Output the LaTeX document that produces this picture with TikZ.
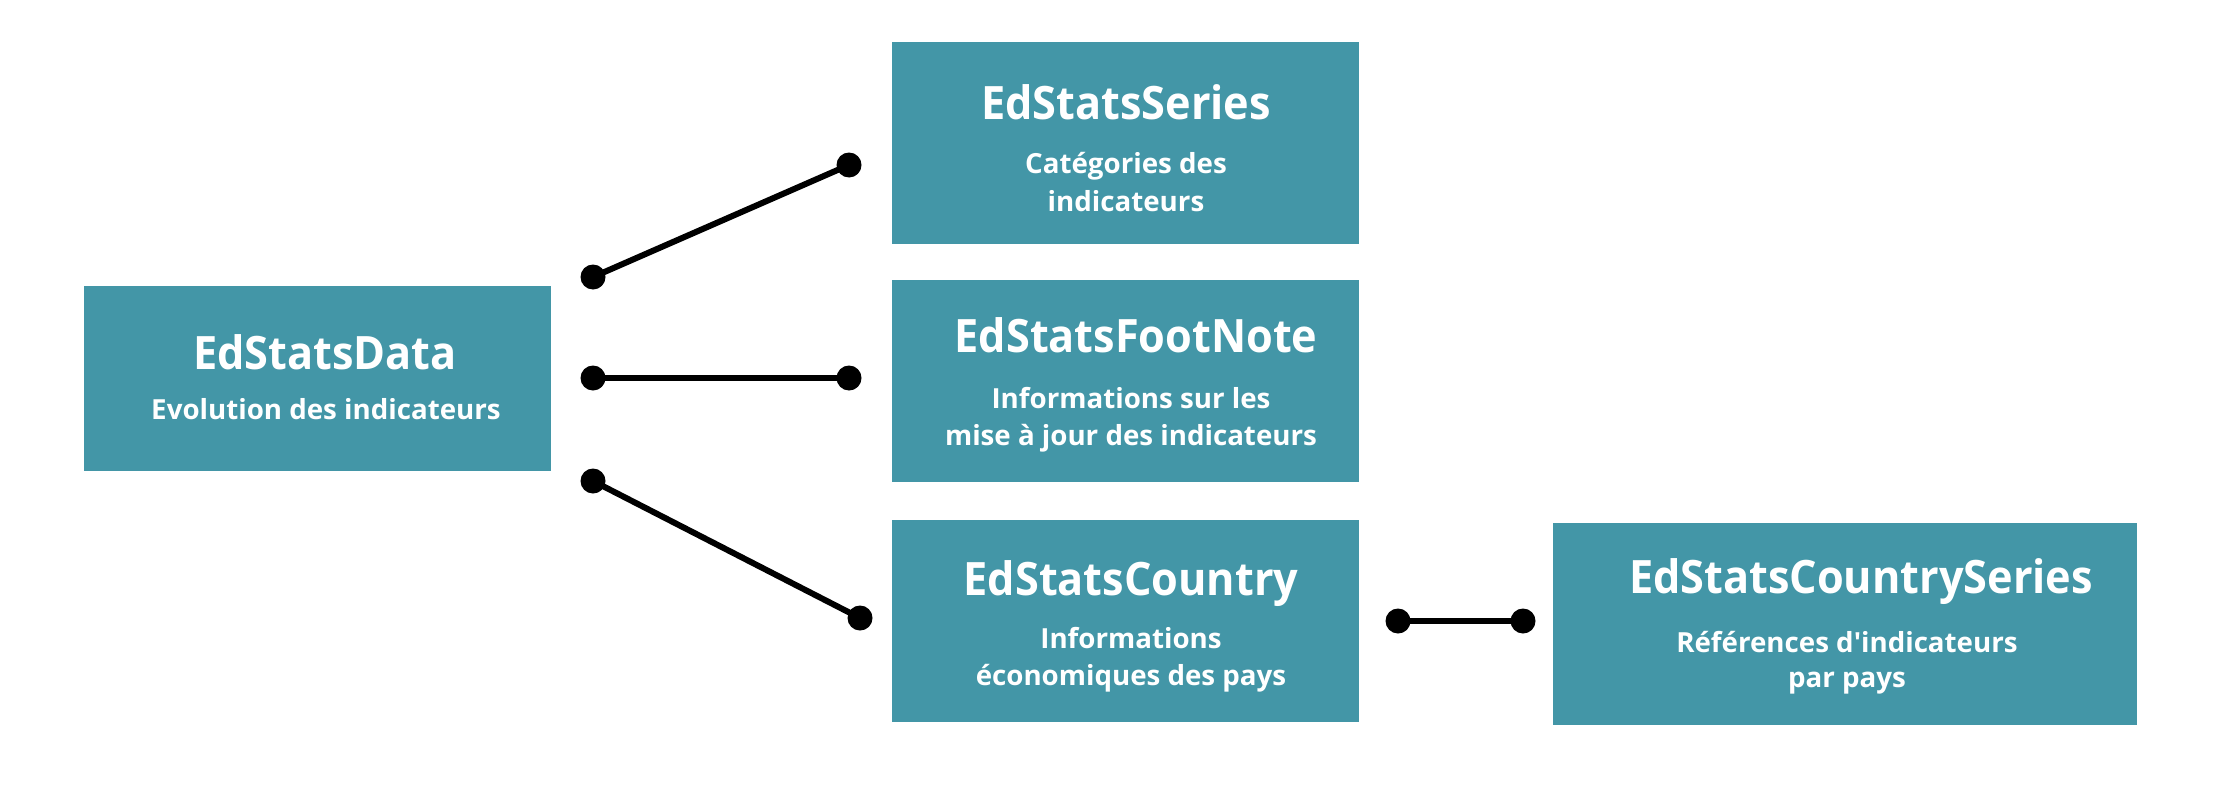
\documentclass[tikz,border=0pt]{standalone}
\usepackage{fontspec}
\setmainfont{Open Sans}
\newfontfamily\ttlfont[FakeStretch=0.94]{Open Sans}
\newfontfamily\plainfont[Ligatures=TeXOff]{Open Sans}
\definecolor{teal}{RGB}{67,150,167}
\tikzset{
  box/.style={draw=none, fill=teal, minimum width=#1, inner sep=0pt, outer sep=0pt},
  ttl/.style={anchor=base, text=white, inner sep=0pt, font=\ttlfont\bfseries\fontsize{46}{55}\selectfont},
  sub/.style={anchor=base, text=white, inner sep=0pt, font=\bfseries\fontsize{27.7}{33}\selectfont},
  dotnode/.style={circle, fill=black, minimum size=25pt, inner sep=0pt},
  link/.style={line width=6pt, black}
}
\begin{document}
\begin{tikzpicture}[x=1pt, y=-1pt]
\useasboundingbox (0,0) rectangle (2218,800);
% boxes
\node[box=467pt, minimum height=185pt] (data) at (317.5,378.5) {};
\node[box=467pt, minimum height=202pt] (series) at (1125.5,143) {};
\node[box=467pt, minimum height=202pt] (foot) at (1125.5,381) {};
\node[box=467pt, minimum height=202pt] (country) at (1125.5,621) {};
\node[box=584pt, minimum height=202pt] (cseries) at (1845,624) {};
% texts
\node[ttl] (tdata) at (325,369) {EdStatsData};
\node[sub] (sdata) at (326,419) {Evolution des indicateurs};
\node[ttl] (tseries) at (1126,119) {EdStatsSeries};
\node[sub] (sseries1) at (1126,173) {Catégories des};
\node[sub] (sseries2) at (1126,211) {indicateurs};
\node[ttl] (tfoot) at (1136,352) {EdStatsFootNote};
\node[sub] (sfoot1) at (1131,408) {Informations sur les};
\node[sub] (sfoot2) at (1131,445) {mise à jour des indicateurs};
\node[ttl] (tcountry) at (1131,595) {EdStatsCountry};
\node[sub] (scountry1) at (1131,648) {Informations};
\node[sub] (scountry2) at (1131,685) {économiques des pays};
\node[ttl] (tcseries) at (1861,593) {EdStatsCountrySeries};
\node[sub] (scseries1) at (1847,652) {Références d{\plainfont\bfseries '}indicateurs};
\node[sub] (scseries2) at (1847,687) {par pays};
% connector dots
\node[dotnode] (a1) at (593,277) {};
\node[dotnode] (b1) at (849,165) {};
\node[dotnode] (a2) at (593,378) {};
\node[dotnode] (b2) at (849,378) {};
\node[dotnode] (a3) at (593,481) {};
\node[dotnode] (b3) at (860,618) {};
\node[dotnode] (a4) at (1398,621) {};
\node[dotnode] (b4) at (1523,621) {};
\draw[link] (a1.center) -- (b1.center);
\draw[link] (a2.center) -- (b2.center);
\draw[link] (a3.center) -- (b3.center);
\draw[link] (a4.center) -- (b4.center);
\end{tikzpicture}
\end{document}
